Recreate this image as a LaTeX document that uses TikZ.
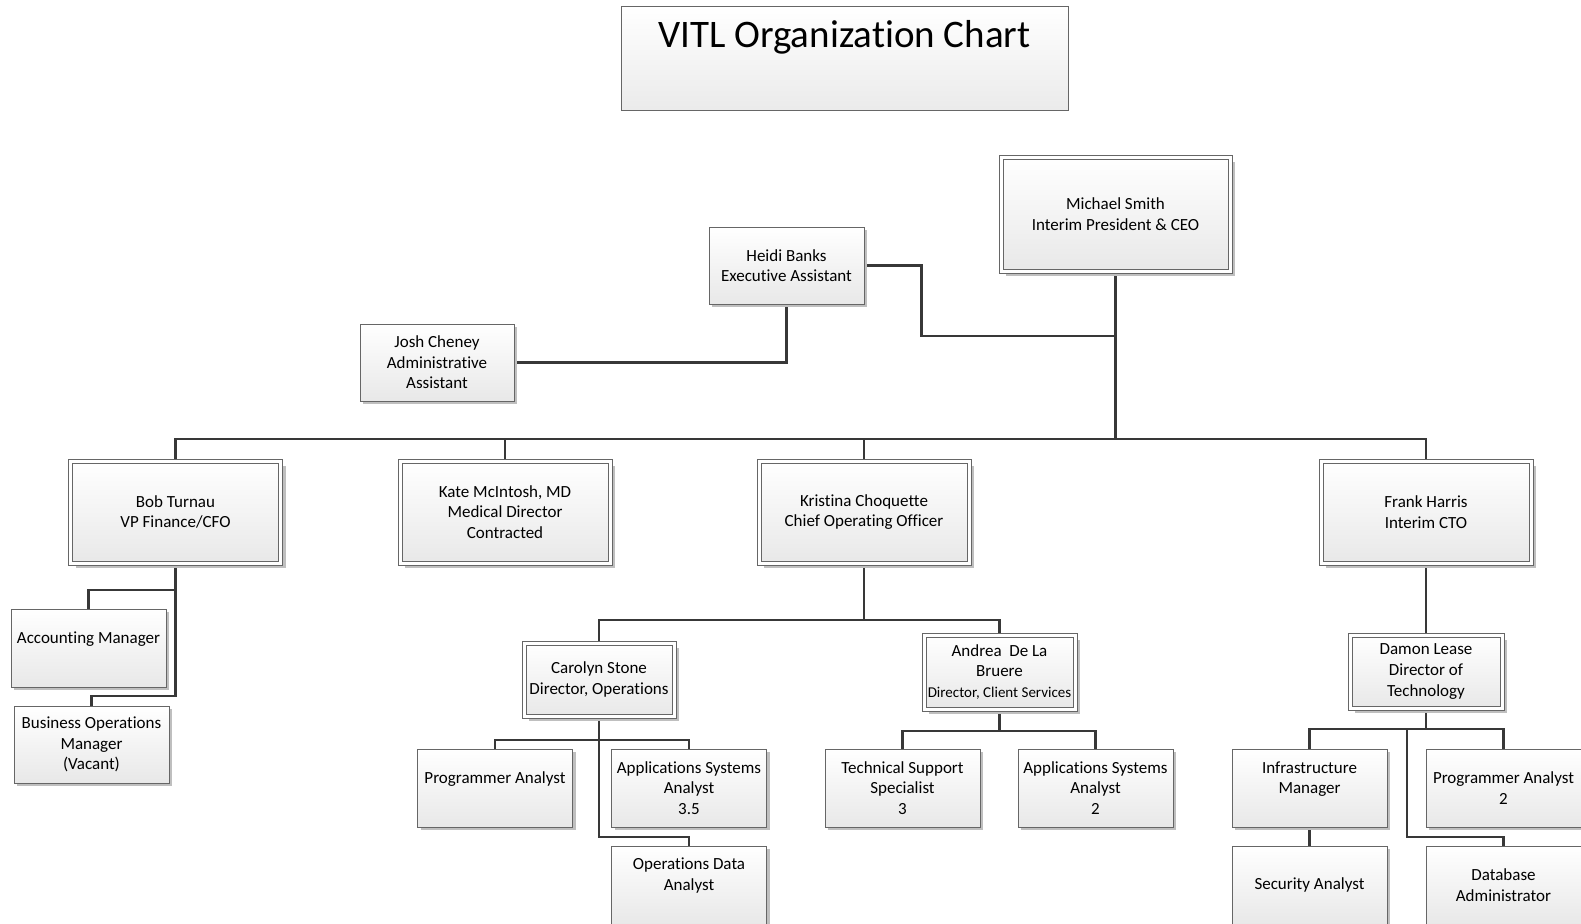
\documentclass[tikz,border=0pt]{standalone}
\usepackage{fontspec}
\setmainfont{Carlito}[Ligatures=NoCommon]
\usetikzlibrary{shadows,backgrounds}
\newcommand{\orgfont}{\fontsize{8.5pt}{10.3pt}\selectfont}
\newcommand{\orgsmall}{\fontsize{7.5pt}{10.3pt}\selectfont}
\newcommand{\orgtitle}{\fontsize{19.5pt}{23pt}\selectfont}
\tikzset{
  box/.style={draw=black!60, line width=0.5pt, top color=white, bottom color=black!9,
    align=center, inner sep=0pt, font=\orgfont,
    minimum width=77.5pt, minimum height=39pt},
  staff/.style={box,
    drop shadow={shadow xshift=1.5pt, shadow yshift=-1.5pt, fill=black!25, opacity=1}},
  lead/.style={box, double=white, double distance=1.5pt,
    drop shadow={shadow xshift=2.5pt, shadow yshift=-2.5pt, fill=black!25, opacity=1}},
  head/.style={lead, minimum width=105pt, minimum height=51pt},
  link/.style={draw=black!78, line width=1.1pt},
  titlebox/.style={draw=black!60, line width=0.5pt, top color=white, bottom color=black!8,
    minimum width=223.5pt, minimum height=52pt},
}
\begin{document}
\begin{tikzpicture}[x=0.5pt,y=-0.5pt]

\useasboundingbox (0,0) rectangle (1581,923);

\node[titlebox] (title) at (844.5,58) {};
\node[font=\orgtitle, anchor=base] (titletext) at (844.5,47) {VITL Organization Chart};

\node[lead, minimum width=114.5pt, minimum height=57pt] (ceo) at (1115.5,214) {Michael Smith\\Interim President \& CEO};
\node[staff, minimum height=38.5pt] (heidi) at (786.5,265.5) {Heidi Banks\\Executive Assistant};
\node[staff, minimum width=77pt, minimum height=38.5pt] (josh) at (437,362.5) {Josh Cheney\\Administrative\\Assistant};

\node[head] (bob) at (175.5,512) {Bob Turnau\\VP Finance/CFO};
\node[head] (kate) at (505,512) {Kate McIntosh, MD\\Medical Director\\Contracted};
\node[head] (kristina) at (864,512) {Kristina Choquette\\Chief Operating Officer};
\node[head] (frank) at (1426,512) {Frank Harris\\Interim CTO};

\node[staff, text height=6pt, text depth=11pt] (acct) at (88.5,648) {Accounting Manager};
\node[staff, minimum height=38.5pt] (bizops) at (91.5,744.5) {Business Operations\\Manager\\(Vacant)};

\node[lead, minimum width=75pt, minimum height=36.5pt] (carolyn) at (599,679.5) {Carolyn Stone\\Director, Operations};
\node[lead, minimum width=75.5pt, minimum height=37pt] (andrea) at (999.5,672) {Andrea~ De La\\Bruere\\{\orgsmall Director, Client Services}};
\node[lead, minimum width=76pt, minimum height=36.5pt] (damon) at (1426,671.5) {Damon Lease\\Director of\\Technology};

\node[staff, text height=6pt, text depth=11pt] (progA) at (495,788) {Programmer Analyst};
\node[staff] (appsysA) at (689,788) {Applications Systems\\Analyst\\3.5};
\node[staff, text height=6pt, text depth=0.5pt] (opsdata) at (689,885) {Operations Data\\Analyst};
\node[staff] (techsup) at (902.5,788) {Technical Support\\Specialist\\3};
\node[staff] (appsysB) at (1095.5,788) {Applications Systems\\Analyst\\2};
\node[staff, text height=6pt, text depth=0.2pt] (infra) at (1309.5,788) {Infrastructure\\Manager};
\node[staff] (progB) at (1503.5,788) {Programmer Analyst\\2};
\node[staff] (security) at (1309.5,885) {Security Analyst};
\node[staff] (dba) at (1503.5,885) {Database\\Administrator};

\coordinate (bus) at (0,438.6);
\coordinate (heidibend) at (921.5,336);
\coordinate (bobbar) at (0,590);
\coordinate (bobend) at (0,696);
\coordinate (kribar) at (0,620);
\coordinate (carbar) at (0,740);
\coordinate (carend) at (0,837);
\coordinate (andbar) at (0,730.7);
\coordinate (dambar) at (0,729.3);
\coordinate (damdrop) at (1406.7,729.3);
\coordinate (damend) at (0,837);

\begin{scope}[on background layer]
\fill[white] (0,0) rectangle (1581,923);
\path[link]
(ceo.south) -- (ceo.south |- bus)
(bob.north) |- (frank.north |- bus) -- (frank.north)
(kate.north) -- (kate.north |- bus)
(kristina.north) -- (kristina.north |- bus)
(heidi.east) -| (heidibend) -- (ceo.south |- heidibend)
(josh.east) -| (heidi.south)

(bob.south) -- (bob.south |- bobend) -| (bizops.north)
(bob.south |- bobbar) -| (acct.north)

(kristina.south) -- (kristina.south |- kribar)
(carolyn.north) |- (andrea.north |- kribar) -- (andrea.north)

(carolyn.south) -- (carolyn.south |- carend) -| (opsdata.north)
(progA.north) |- (appsysA.north |- carbar) -- (appsysA.north)

(andrea.south) -- (andrea.south |- andbar)
(techsup.north) |- (appsysB.north |- andbar) -- (appsysB.north)

(frank.south) -- (damon.north)
(damon.south) -- (damon.south |- dambar)
(infra.north) |- (progB.north |- dambar) -- (progB.north)
(damdrop) |- (dba.north |- damend) -- (dba.north)
(infra.south) -- (security.north);
\end{scope}

\end{tikzpicture}
\end{document}
